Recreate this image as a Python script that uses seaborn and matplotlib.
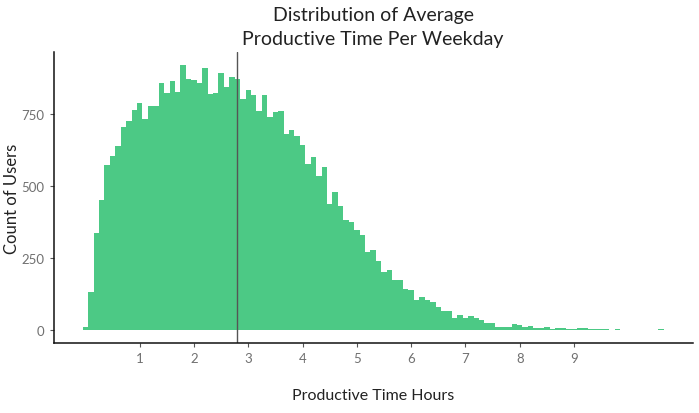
import numpy as np
import pandas as pd
import seaborn as sns
import matplotlib.pyplot as plt

# ---------------------------------------
# Data (bin width 0.1 hours, bins centred on k/10)
# ---------------------------------------
bin_centers = [round(k * 0.1, 1) for k in range(107)]
user_counts = [
    8, 130, 334, 451, 570, 602, 636, 704, 724, 762,          # 0.0 - 0.9
    786, 731, 776, 778, 855, 822, 862, 825, 918, 869,        # 1.0 - 1.9
    867, 855, 908, 818, 822, 890, 841, 878, 871, 799,        # 2.0 - 2.9
    832, 813, 758, 814, 737, 754, 760, 680, 692, 673,        # 3.0 - 3.9
    640, 576, 600, 534, 566, 437, 477, 429, 382, 375,        # 4.0 - 4.9
    345, 329, 269, 276, 239, 199, 207, 174, 174, 141,        # 5.0 - 5.9
    138, 104, 112, 102, 95, 78, 64, 64, 40, 51,              # 6.0 - 6.9
    41, 49, 40, 35, 22, 22, 8, 8, 8, 20,                     # 7.0 - 7.9
    17, 8, 14, 6, 6, 9, 3, 6, 5, 2,                          # 8.0 - 8.9
    2, 5, 5, 3, 2, 3, 3, 0, 3, 0,                            # 9.0 - 9.9
    0, 0, 0, 0, 0, 0, 2,                                     # 10.0 - 10.6
]
mean_hours = 2.8

x_ticks = [1, 2, 3, 4, 5, 6, 7, 8, 9]
y_ticks = [0, 250, 500, 750]

df = pd.DataFrame({"hours": bin_centers, "users": user_counts})

# ---------------------------------------
# Plot
# ---------------------------------------
sns.set_style("white")
plt.rcParams["font.family"] = ["Lato", "DejaVu Sans"]

fig = plt.figure(figsize=(6.99, 4.14), dpi=100)
ax = fig.add_axes([0.0767, 0.1693, 0.9143, 0.7027])

sns.histplot(data=df, x="hours", weights="users", binwidth=0.1,
             binrange=(-0.05, 10.65), color="#4CC985", alpha=1.0,
             edgecolor="none", linewidth=0, ax=ax)
ax.axvline(mean_hours, color="#555555", linewidth=1.0)

ax.set_xlim(-0.585, 11.185)
ax.set_ylim(-45.9, 963.9)
ax.set_xticks(x_ticks)
ax.set_yticks(y_ticks)
ax.tick_params(axis="both", which="both", length=3, width=0.8,
               color="#555555", labelcolor="#707070", labelsize=9.5,
               bottom=True, left=True)

ax.set_title("Distribution of Average\nProductive Time Per Weekday",
             fontsize=14, color="#222222", pad=6, linespacing=1.45)
ax.set_xlabel("Productive Time Hours", fontsize=11.5, color="#222222",
              labelpad=17)
ax.set_ylabel("Count of Users", fontsize=12, color="#222222", labelpad=1)

sns.despine(ax=ax)
for side in ["left", "bottom"]:
    ax.spines[side].set_color("#111111")
    ax.spines[side].set_linewidth(1.1)

fig.savefig("out.png", dpi=100)
